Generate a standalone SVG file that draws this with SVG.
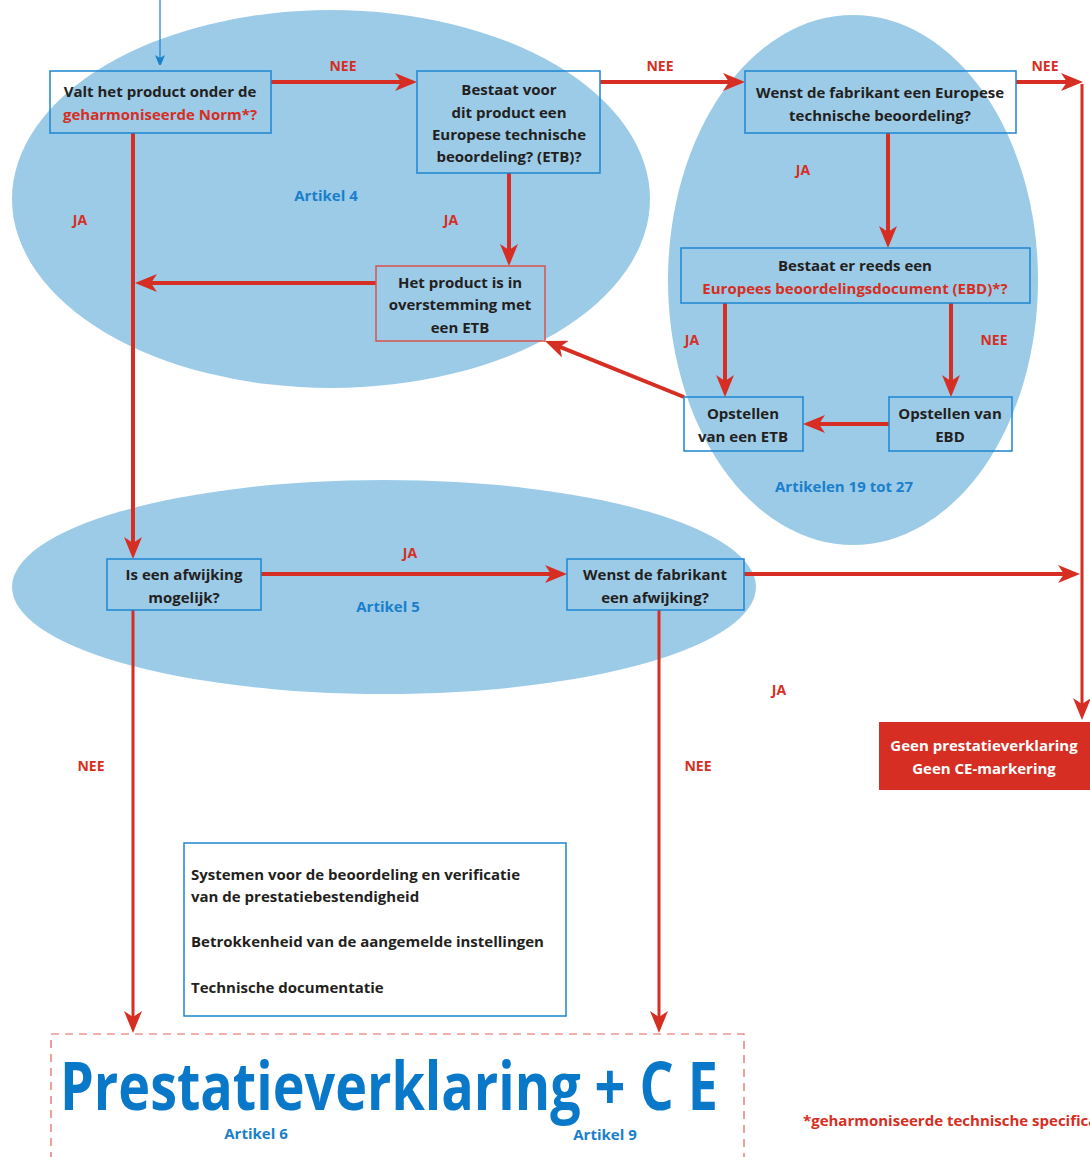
<svg xmlns="http://www.w3.org/2000/svg" width="1090" height="1157" viewBox="0 0 1090 1157">
<style>
text{font-family:"Open Sans","Noto Sans","Liberation Sans",sans-serif;font-weight:700}
.t{font-size:15px;fill:#231f20;text-anchor:middle}
.tl{font-size:15px;fill:#231f20}
.r{fill:#d62e23}
.w{fill:#ffffff}
.lab{font-size:14px;fill:#d62e23;text-anchor:middle}
.art{font-size:15px;fill:#1a7fcb;text-anchor:middle}
.bx{fill:none;stroke:#1b86d1;stroke-width:1.5}
.bxr{fill:none;stroke:#d9534f;stroke-width:1.5}
.ell{fill:#9ccbe8}
.c{fill:none;stroke:#d62e23;stroke-width:4;marker-end:url(#ah)}
.c3{fill:none;stroke:#d62e23;stroke-width:3;marker-end:url(#ah)}
</style>
<defs>
<marker id="ah" markerUnits="userSpaceOnUse" markerWidth="22" markerHeight="18" refX="16" refY="9" orient="auto">
<path d="M0,0 L22,9 L0,18 L6,9 z" fill="#d62e23"/>
</marker>
<marker id="ahb" markerUnits="userSpaceOnUse" markerWidth="10" markerHeight="10" refX="8" refY="5" orient="auto">
<path d="M0,0 L12,5 L0,10 L3,5 z" fill="#1a7fcb"/>
</marker>
</defs>
<rect width="1090" height="1157" fill="#ffffff"/>

<g id="zones">
<ellipse id="zone-art4" class="ell" cx="331" cy="199" rx="319" ry="189"/>
<ellipse id="zone-art19" class="ell" cx="853" cy="280" rx="185" ry="265"/>
<ellipse id="zone-art5" class="ell" cx="384" cy="587" rx="372" ry="107"/>
<text class="art" x="326" y="201">Artikel 4</text>
<text class="art" x="844" y="492">Artikelen 19 tot 27</text>
<text class="art" x="388" y="612">Artikel 5</text>
</g>

<g id="connectors">
<path d="M160,0 V63" fill="none" stroke="#1a7fcb" stroke-width="1.2" marker-end="url(#ahb)"/>
<path class="c" d="M271,82 H411"/>
<path class="c" d="M600,82 H739"/>
<path class="c" d="M1016,82 H1077"/>
<path class="c3" d="M1082,84 V714"/>
<path class="c" d="M133,133 V553"/>
<path class="c" d="M509,173 V260"/>
<path class="c" d="M376,283 H141"/>
<path class="c" d="M888,133 V242"/>
<path class="c" d="M725,303 V391"/>
<path class="c" d="M951,303 V391"/>
<path class="c" d="M889,424 H809"/>
<path class="c" d="M684,397 L550.6,343.2"/>
<path class="c" d="M261,574 H561"/>
<path class="c" d="M744,574 H1074"/>
<path class="c3" d="M133,610 V1027"/>
<path class="c3" d="M659,610 V1027"/>
<text class="lab" x="343" y="71">NEE</text>
<text class="lab" x="660" y="71">NEE</text>
<text class="lab" x="1045" y="71">NEE</text>
<text class="lab" x="80" y="225">JA</text>
<text class="lab" x="451" y="225">JA</text>
<text class="lab" x="803" y="175">JA</text>
<text class="lab" x="692" y="345">JA</text>
<text class="lab" x="994" y="345">NEE</text>
<text class="lab" x="410" y="558">JA</text>
<text class="lab" x="779" y="695">JA</text>
<text class="lab" x="91" y="771">NEE</text>
<text class="lab" x="698" y="771">NEE</text>
</g>

<g id="n-norm">
<rect class="bx" x="50" y="71" width="221" height="62"/>
<text class="t" x="160" y="97">Valt het product onder de</text>
<text class="t r" x="160" y="120">geharmoniseerde Norm*?</text>
</g>
<g id="n-etb-exists">
<rect class="bx" x="417" y="71" width="183" height="102"/>
<text class="t" x="509" y="95">Bestaat voor</text>
<text class="t" x="509" y="118">dit product een</text>
<text class="t" x="509" y="140">Europese technische</text>
<text class="t" x="509" y="162">beoordeling? (ETB)?</text>
</g>
<g id="n-conform">
<rect class="bxr" x="376" y="266" width="169" height="75"/>
<text class="t" x="460" y="288">Het product is in</text>
<text class="t" x="460" y="310">overstemming met</text>
<text class="t" x="460" y="333">een ETB</text>
</g>
<g id="n-wish-etb">
<rect class="bx" x="745" y="71" width="271" height="62"/>
<text class="t" x="880" y="98">Wenst de fabrikant een Europese</text>
<text class="t" x="880" y="121">technische beoordeling?</text>
</g>
<g id="n-ebd-exists">
<rect class="bx" x="681" y="248" width="349" height="55"/>
<text class="t" x="855" y="271">Bestaat er reeds een</text>
<text class="t r" x="855" y="294">Europees beoordelingsdocument (EBD)*?</text>
</g>
<g id="n-make-etb">
<rect class="bx" x="684" y="397" width="119" height="54"/>
<text class="t" x="743" y="419">Opstellen</text>
<text class="t" x="743" y="442">van een ETB</text>
</g>
<g id="n-make-ebd">
<rect class="bx" x="889" y="397" width="123" height="54"/>
<text class="t" x="950" y="419">Opstellen van</text>
<text class="t" x="950" y="442">EBD</text>
</g>
<g id="n-deviation-possible">
<rect class="bx" x="107" y="559" width="154" height="51"/>
<text class="t" x="184" y="580">Is een afwijking</text>
<text class="t" x="184" y="603">mogelijk?</text>
</g>
<g id="n-wish-deviation">
<rect class="bx" x="567" y="559" width="177" height="51"/>
<text class="t" x="655" y="580">Wenst de fabrikant</text>
<text class="t" x="655" y="603">een afwijking?</text>
</g>
<g id="n-no-dop">
<rect x="879" y="722" width="211" height="68" fill="#d62e23"/>
<text class="t w" x="984" y="751">Geen prestatieverklaring</text>
<text class="t w" x="984" y="774">Geen CE-markering</text>
</g>
<g id="n-systems">
<rect class="bx" x="184" y="843" width="382" height="173"/>
<text class="tl" x="191" y="880">Systemen voor de beoordeling en verificatie</text>
<text class="tl" x="191" y="902">van de prestatiebestendigheid</text>
<text class="tl" x="191" y="947">Betrokkenheid van de aangemelde instellingen</text>
<text class="tl" x="191" y="993">Technische documentatie</text>
</g>
<g id="n-dop-ce">
<rect x="51" y="1034" width="693" height="140" fill="none" stroke="#e0605a" stroke-width="1.2" stroke-dasharray="8,6"/>
<text transform="scale(0.85,1)" x="70.6" y="1110" font-size="66" fill="#0a78c8" textLength="774" lengthAdjust="spacingAndGlyphs">Prestatieverklaring + C E</text>
<text class="art" x="256" y="1139">Artikel 6</text>
<text class="art" x="605" y="1140">Artikel 9</text>
</g>
<text id="footnote" x="803" y="1126" font-size="15" fill="#d62e23">*geharmoniseerde technische specificatie</text>
</svg>
